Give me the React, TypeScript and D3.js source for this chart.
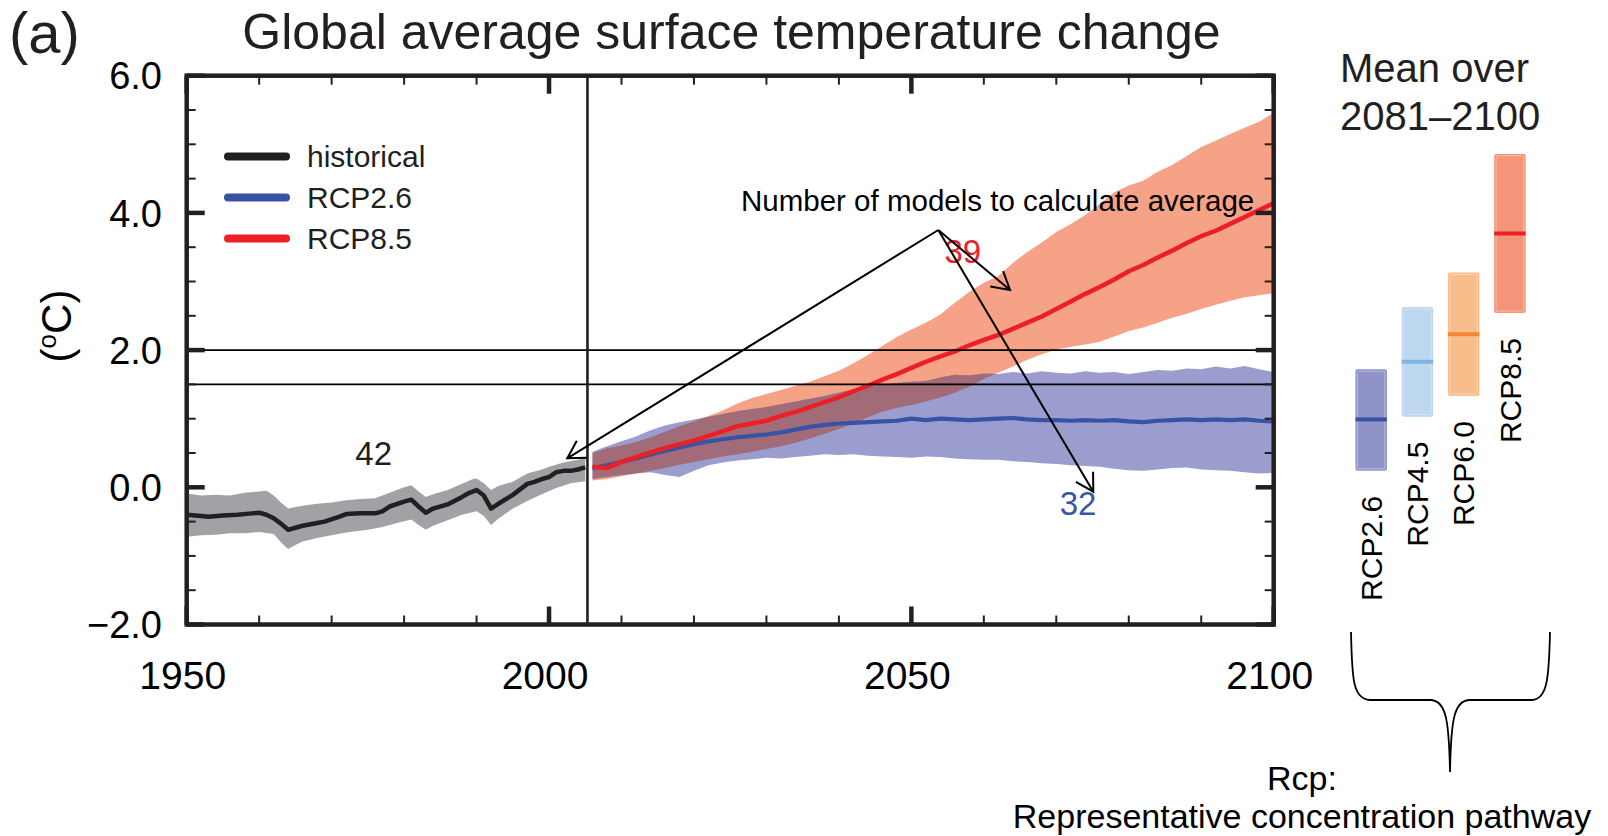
import React from 'react';
import * as d3 from 'd3';

// ---- Historical simulations (1950–2005) ----
const histYears = [1950, 1952, 1953, 1955, 1957, 1959, 1960, 1961, 1962, 1963, 1964, 1965, 1966, 1968, 1969, 1971, 1972, 1974, 1976, 1977, 1978, 1980, 1981, 1982, 1983, 1984, 1986, 1988, 1989, 1990, 1991, 1992, 1993, 1995, 1996, 1997, 1998, 1999, 2000, 2001, 2002, 2003, 2004, 2005];
const histMean = [-0.40, -0.42, -0.43, -0.41, -0.40, -0.38, -0.37, -0.40, -0.45, -0.53, -0.62, -0.59, -0.56, -0.52, -0.50, -0.43, -0.39, -0.38, -0.38, -0.35, -0.28, -0.21, -0.18, -0.28, -0.37, -0.31, -0.25, -0.14, -0.08, -0.04, -0.12, -0.31, -0.24, -0.11, -0.03, 0.05, 0.08, 0.12, 0.15, 0.22, 0.24, 0.24, 0.26, 0.29];

const histUpperYears = [1950, 1952, 1954, 1956, 1958, 1960, 1961, 1962, 1963, 1964, 1966, 1968, 1970, 1972, 1974, 1976, 1978, 1980, 1981, 1982, 1983, 1984, 1986, 1988, 1989.5, 1990, 1991, 1992, 1993, 1995, 1997, 1999, 2000, 2002, 2004, 2005];
const histUpper = [-0.09, -0.12, -0.11, -0.12, -0.08, -0.06, -0.05, -0.12, -0.22, -0.31, -0.27, -0.24, -0.22, -0.19, -0.17, -0.16, -0.08, 0.0, 0.03, -0.06, -0.14, -0.10, -0.04, 0.05, 0.12, 0.13, 0.06, -0.04, 0.02, 0.08, 0.20, 0.26, 0.30, 0.36, 0.40, 0.43];

const histLowerYears = [1950, 1952, 1954, 1956, 1958, 1960, 1962, 1963, 1964, 1965, 1966, 1968, 1970, 1972, 1975, 1977, 1979, 1981, 1982, 1983, 1984, 1986, 1988, 1990, 1991, 1992, 1993, 1995, 1997, 1999, 2001, 2003, 2005];
const histLower = [-0.72, -0.70, -0.69, -0.67, -0.67, -0.65, -0.68, -0.80, -0.90, -0.84, -0.79, -0.74, -0.70, -0.66, -0.62, -0.58, -0.52, -0.47, -0.55, -0.62, -0.56, -0.48, -0.40, -0.35, -0.42, -0.55, -0.46, -0.31, -0.20, -0.10, -0.01, 0.06, 0.09];

// ---- Scenario projections (2006–2100) ----
const projYears = [
  2006, 2008, 2010, 2012, 2014, 2016, 2018, 2020,
  2022, 2024, 2026, 2028, 2030, 2032, 2034, 2036,
  2038, 2040, 2042, 2044, 2046, 2048, 2050, 2052,
  2054, 2056, 2058, 2060, 2062, 2064, 2066, 2068,
  2070, 2072, 2074, 2076, 2078, 2080, 2082, 2084,
  2086, 2088, 2090, 2092, 2094, 2096, 2098, 2100,
];

const rcp26Mean = [
  0.28, 0.32, 0.37, 0.42, 0.48, 0.53, 0.58, 0.63,
  0.67, 0.70, 0.73, 0.75, 0.77, 0.80, 0.84, 0.88,
  0.91, 0.93, 0.94, 0.95, 0.96, 0.97, 1.00, 0.98,
  1.00, 0.99, 0.98, 0.99, 1.00, 1.01, 0.99, 0.98,
  0.98, 0.97, 0.98, 0.97, 0.98, 0.96, 0.95, 0.97,
  0.98, 0.99, 0.98, 0.99, 0.98, 0.99, 0.97, 0.96,
];
const rcp26Upper = [
  0.52, 0.60, 0.67, 0.74, 0.83, 0.90, 0.95, 0.99,
  1.03, 1.07, 1.11, 1.14, 1.17, 1.21, 1.25, 1.29,
  1.33, 1.38, 1.43, 1.47, 1.50, 1.52, 1.54, 1.55,
  1.60, 1.64, 1.63, 1.66, 1.65, 1.68, 1.66, 1.69,
  1.67, 1.66, 1.69, 1.67, 1.68, 1.65, 1.68, 1.71,
  1.70, 1.73, 1.72, 1.76, 1.73, 1.77, 1.72, 1.68,
];
const rcp26Lower = [
  0.12, 0.15, 0.18, 0.20, 0.22, 0.18, 0.15, 0.24,
  0.32, 0.36, 0.39, 0.41, 0.43, 0.42, 0.44, 0.46,
  0.48, 0.47, 0.48, 0.46, 0.45, 0.44, 0.43, 0.45,
  0.44, 0.42, 0.41, 0.40, 0.40, 0.38, 0.37, 0.35,
  0.34, 0.32, 0.31, 0.30, 0.27, 0.25, 0.24, 0.26,
  0.28, 0.29, 0.26, 0.25, 0.24, 0.22, 0.20, 0.21,
];

const rcp85Mean = [
  0.30, 0.28, 0.37, 0.44, 0.51, 0.57, 0.63, 0.68,
  0.75, 0.82, 0.89, 0.93, 0.97, 1.04, 1.10, 1.17,
  1.24, 1.31, 1.40, 1.48, 1.57, 1.65, 1.74, 1.83,
  1.91, 1.98, 2.07, 2.15, 2.22, 2.31, 2.40, 2.49,
  2.60, 2.71, 2.82, 2.92, 3.03, 3.15, 3.24, 3.35,
  3.45, 3.56, 3.66, 3.74, 3.84, 3.94, 4.04, 4.14,
];
const rcp85Upper = [
  0.50, 0.57, 0.61, 0.66, 0.73, 0.81, 0.89, 0.96,
  1.04, 1.12, 1.22, 1.30, 1.36, 1.42, 1.48, 1.54,
  1.62, 1.70, 1.81, 1.93, 2.06, 2.19, 2.30, 2.40,
  2.52, 2.69, 2.85, 2.98, 3.08, 3.27, 3.43, 3.57,
  3.72, 3.84, 3.97, 4.13, 4.30, 4.40, 4.47, 4.60,
  4.70, 4.83, 4.96, 5.05, 5.15, 5.24, 5.33, 5.46,
];
const rcp85Lower = [
  0.10, 0.12, 0.16, 0.20, 0.24, 0.28, 0.33, 0.37,
  0.41, 0.45, 0.48, 0.52, 0.56, 0.60, 0.65, 0.71,
  0.78, 0.85, 0.93, 1.02, 1.10, 1.16, 1.20, 1.25,
  1.31, 1.38, 1.47, 1.58, 1.67, 1.76, 1.86, 1.94,
  2.01, 2.05, 2.08, 2.12, 2.20, 2.28, 2.33, 2.40,
  2.47, 2.53, 2.60, 2.66, 2.72, 2.77, 2.80, 2.83,
];

// ---- 2081–2100 mean and range per pathway ----
const rcpNames = ['RCP2.6', 'RCP4.5', 'RCP6.0', 'RCP8.5'];
const rcpEndMean = [0.99, 1.83, 2.23, 3.70];
const rcpEndLow = [0.24, 1.03, 1.33, 2.54];
const rcpEndHigh = [1.72, 2.63, 3.13, 4.86];
const rcpBarFill = ['#8f93c7', '#bdd7ef', '#f9bd8c', '#f4957a'];
const rcpBarLine = ['#3853a4', '#7fb5e2', '#f58634', '#ec1f26'];

// ---- Labels ----
const legendItems = [
  { label: 'historical', color: '#231f20' },
  { label: 'RCP2.6', color: '#3853a4' },
  { label: 'RCP8.5', color: '#ec1f26' },
];
const modelCounts = [
  { text: '42', year: 1975.8, value: 0.32, color: '#231f20' },
  { text: '39', year: 2057.1, value: 3.27, color: '#ec1f26' },
  { text: '32', year: 2073.0, value: -0.40, color: '#3b55a5' },
];
const referenceLevels = [2.0, 1.5];
const boundaryYear = 2005.3;

const FONT = '"Liberation Sans", Arial, Helvetica, sans-serif';
const INK = '#231f20';

export default function App() {
  const W = 1608;
  const H = 836;
  const x = d3.scaleLinear().domain([1950, 2100]).range([186.7, 1273.7]);
  const y = d3.scaleLinear().domain([-2, 6]).range([624.5, 75.7]);

  const line = d3
    .line<[number, number]>()
    .x((d) => x(d[0]))
    .y((d) => y(d[1]));

  const zip = (xs: number[], vs: number[]) => xs.map((v, i) => [v, vs[i]] as [number, number]);

  const bandPath = (upX: number[], up: number[], loX: number[], lo: number[]) =>
    line([...zip(upX, up), ...zip(loX, lo).reverse()]) + 'Z';

  const histBand = bandPath(histUpperYears, histUpper, histLowerYears, histLower);
  const red85Band = bandPath(projYears, rcp85Upper, projYears, rcp85Lower);
  const blue26Band = bandPath(projYears, rcp26Upper, projYears, rcp26Lower);

  const yTicks = y.ticks(16);
  const xTicks = x.ticks(15);
  const [x0, x1] = x.range();
  const [y0, y1] = y.range(); // y0 bottom, y1 top

  const fmt = d3.format('.1f');

  // bar positions for the end-of-century panel
  const barX = d3.scalePoint<string>().domain(rcpNames).range([1371.2, 1509.9]);
  const barW = 31.5;

  // annotation arrows
  const apex: [number, number] = [938.3, 230];
  const arrowTargets: [number, number][] = [
    [567.3, 458.3],
    [1010, 290],
    [1093.3, 491.7],
  ];
  const arrowHead = (tip: [number, number], from: [number, number]) => {
    const ang = Math.atan2(from[1] - tip[1], from[0] - tip[0]);
    const len = 20;
    const spread = (30 * Math.PI) / 180;
    const a = [tip[0] + len * Math.cos(ang + spread), tip[1] + len * Math.sin(ang + spread)];
    const b = [tip[0] + len * Math.cos(ang - spread), tip[1] + len * Math.sin(ang - spread)];
    return `M${a[0]},${a[1]}L${tip[0]},${tip[1]}L${b[0]},${b[1]}`;
  };

  return (
    <svg
      width={W}
      height={H}
      viewBox={`0 0 ${W} ${H}`}
      style={{ position: 'absolute', left: 0, top: 0, background: '#fff' }}
      fontFamily={FONT}
    >
      <defs>
        <clipPath id="rcp85-band-clip">
          <path d={red85Band} />
        </clipPath>
      </defs>
      <rect width={W} height={H} fill="#fff" />

      {/* uncertainty bands; where the two scenario ranges overlap they mix to mauve */}
      <path d={histBand} fill="#a1a2a5" />
      <path d={red85Band} fill="#f5a286" />
      <path d={blue26Band} fill="#9a9dce" />
      <path d={blue26Band} fill="#a16c77" clipPath="url(#rcp85-band-clip)" />

      {/* multi-model means */}
      <path d={line(zip(histYears, histMean)) || ''} fill="none" stroke={INK} strokeWidth={4.5} strokeLinejoin="round" />
      <path d={line(zip(projYears, rcp26Mean)) || ''} fill="none" stroke="#3853a4" strokeWidth={4.2} strokeLinejoin="round" />
      <path d={line(zip(projYears, rcp85Mean)) || ''} fill="none" stroke="#ec1f26" strokeWidth={4.5} strokeLinejoin="round" />

      {/* reference levels */}
      {referenceLevels.map((v) => (
        <line key={v} x1={x0} x2={x1} y1={y(v)} y2={y(v)} stroke="#000" strokeWidth={1.8} />
      ))}

      {/* historical / projection boundary */}
      <line x1={x(boundaryYear)} x2={x(boundaryYear)} y1={y1} y2={y0} stroke={INK} strokeWidth={2.6} />

      {/* ticks */}
      {yTicks.map((v) => {
        const major = Math.abs(v % 2) < 1e-9;
        const len = major ? 18 : 9;
        const sw = major ? 4.5 : 2;
        return (
          <g key={`yt${v}`}>
            <line x1={x0} x2={x0 + len} y1={y(v)} y2={y(v)} stroke={INK} strokeWidth={sw} />
            <line x1={x1} x2={x1 - len} y1={y(v)} y2={y(v)} stroke={INK} strokeWidth={sw} />
          </g>
        );
      })}
      {xTicks.map((v) => {
        const major = v % 50 === 0;
        const len = major ? 18 : 9;
        const sw = major ? 4.5 : 2;
        return (
          <g key={`xt${v}`}>
            <line x1={x(v)} x2={x(v)} y1={y0} y2={y0 - len} stroke={INK} strokeWidth={sw} />
            <line x1={x(v)} x2={x(v)} y1={y1} y2={y1 + len} stroke={INK} strokeWidth={sw} />
          </g>
        );
      })}

      {/* frame */}
      <rect x={x0} y={y1} width={x1 - x0} height={y0 - y1} fill="none" stroke={INK} strokeWidth={4.5} />

      {/* tick labels */}
      {yTicks
        .filter((v) => Math.abs(v % 2) < 1e-9)
        .map((v) => (
          <text key={`yl${v}`} x={162} y={y(v)} dy="0.36em" textAnchor="end" fontSize={38} fill="#000">
            {fmt(v)}
          </text>
        ))}
      {xTicks
        .filter((v) => v % 50 === 0)
        .map((v) => (
          <text key={`xl${v}`} x={x(v) - 4} y={689} textAnchor="middle" fontSize={39} fill="#000">
            {v}
          </text>
        ))}

      {/* axis title */}
      <text transform="translate(71,326) rotate(-90)" textAnchor="middle" fontSize={42} fill="#000">
        (<tspan fontSize={26} dy={-15}>o</tspan>
        <tspan dy={15}>C)</tspan>
      </text>

      {/* titles */}
      <text x={9} y={53} fontSize={58} fill="#231f20">(a)</text>
      <text x={731.5} y={49} textAnchor="middle" fontSize={50} fill="#231f20">
        Global average surface temperature change
      </text>

      {/* legend */}
      {legendItems.map((d, i) => {
        const ly = 156.5 + i * 41;
        return (
          <g key={d.label}>
            <line x1={228} x2={286} y1={ly} y2={ly} stroke={d.color} strokeWidth={8} strokeLinecap="round" />
            <text x={307} y={ly} dy="0.36em" fontSize={30} fill="#231f20">
              {d.label}
            </text>
          </g>
        );
      })}

      {/* model counts */}
      {modelCounts.map((d) => (
        <text key={d.text} x={x(d.year)} y={y(d.value)} textAnchor="middle" fontSize={33} fill={d.color}>
          {d.text}
        </text>
      ))}

      {/* annotation */}
      <text x={741} y={211} fontSize={29.5} fill="#000">
        Number of models to calculate average
      </text>
      {arrowTargets.map((t, i) => (
        <g key={`ar${i}`} fill="none" stroke="#000" strokeWidth={2}>
          <line x1={apex[0]} y1={apex[1]} x2={t[0]} y2={t[1]} />
          <path d={arrowHead(t, apex)} />
        </g>
      ))}

      {/* end-of-century panel */}
      <text x={1340} y={82} fontSize={40} fill="#231f20">Mean over</text>
      <text x={1340} y={130} fontSize={40} fill="#231f20">2081–2100</text>
      {rcpNames.map((name, i) => {
        const cx = barX(name) as number;
        const top = y(rcpEndHigh[i]);
        const bot = y(rcpEndLow[i]);
        return (
          <g key={name}>
            <rect x={cx - barW / 2} y={top} width={barW} height={bot - top} rx={2} fill={rcpBarFill[i]} />
            <rect
              x={cx - barW / 2 + 2}
              y={top + 2}
              width={barW - 4}
              height={bot - top - 4}
              rx={1}
              fill="none"
              stroke="#fff"
              strokeOpacity={0.35}
              strokeWidth={1}
            />
            <line x1={cx - barW / 2} x2={cx + barW / 2} y1={y(rcpEndMean[i])} y2={y(rcpEndMean[i])} stroke={rcpBarLine[i]} strokeWidth={4} />
            <text
              transform={`translate(${cx},${bot + 25}) rotate(-90)`}
              dy="0.36em"
              textAnchor="end"
              fontSize={30}
              fill="#000"
            >
              {name}
            </text>
          </g>
        );
      })}

      {/* brace grouping the pathways */}
      <path
        d="M1351,632 C1352,680 1353,699 1370,700 L1431,700 C1446,701 1449,720 1450,772 C1451,720 1454,701 1469,700 L1532,700 C1547,699 1549,680 1550,632"
        fill="none"
        stroke="#000"
        strokeWidth={1.8}
      />
      <text x={1302} y={790} textAnchor="middle" fontSize={34} fill="#000">Rcp:</text>
      <text x={1302} y={828} textAnchor="middle" fontSize={34} fill="#000">
        Representative concentration pathway
      </text>
    </svg>
  );
}
